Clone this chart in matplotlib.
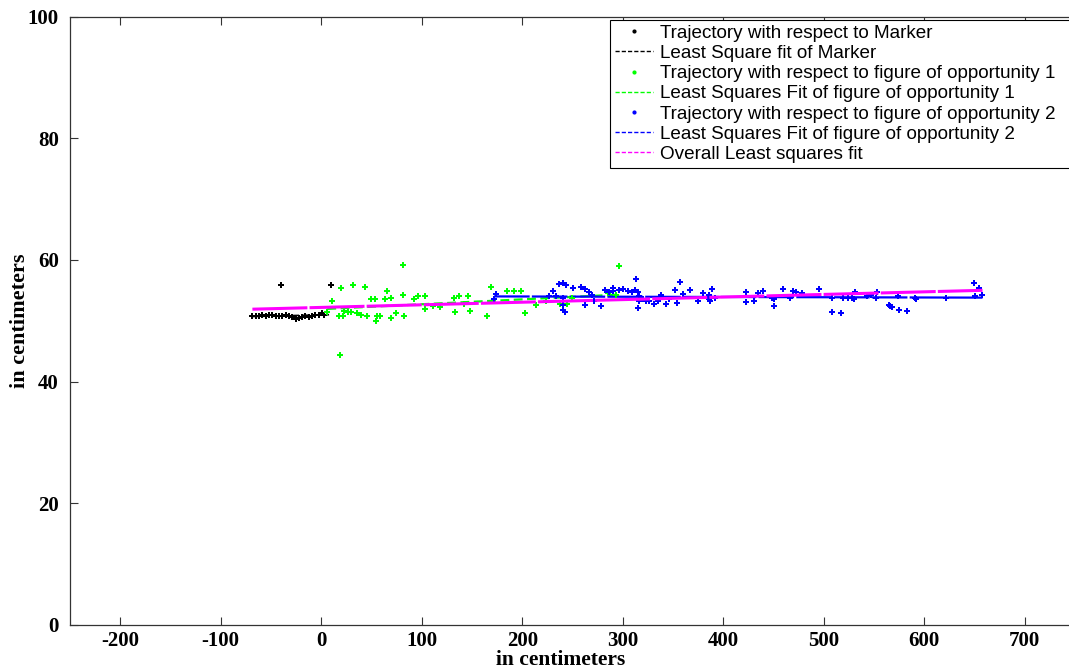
import matplotlib
matplotlib.use("Agg")
import matplotlib.pyplot as plt
from matplotlib.lines import Line2D

plt.rcParams["axes.unicode_minus"] = False

# Trajectory relative to the marker
marker_x = [-68.5, -65.2, -61.9, -58.6, -55.3, -52.0, -48.7, -45.4, -42.1, -38.8,
            -35.5, -32.2, -28.9, -25.6, -22.3, -19.0, -15.7, -12.4, -9.1, -5.8,
            -2.5, 0.8, 2.5, -40.5, 9.5]
marker_y = [50.8, 50.7, 50.85, 50.9, 50.7, 51.0, 50.9, 50.85, 50.7, 50.85,
            50.9, 50.8, 50.55, 50.35, 50.4, 50.6, 50.7, 50.55, 50.8, 50.9,
            51.0, 51.3, 50.9, 55.8, 55.8]
marker_fit_x = [-68.5, 9.5]
marker_fit_y = [50.7, 51.0]

# Trajectory relative to figure of opportunity 1
fig1_x = [6, 10.5, 18, 18.5, 19.5, 22, 23, 27, 30, 32, 36, 40, 44, 46, 50, 53.5,
          55, 54.5, 58.5, 63.5, 65, 69.5, 69.5, 74.5, 81, 81, 82, 92, 96, 103,
          103, 111, 118, 132, 133, 137, 142, 146.5, 148, 164.5, 168.5, 185, 192,
          198.5, 203, 214, 224, 237.5, 245, 249.5, 285, 293, 296.5]
fig1_y = [51.5, 53.3, 50.8, 44.4, 55.3, 50.8, 51.6, 51.5, 51.5, 55.9, 51.2, 51.0,
          55.5, 50.7, 53.5, 53.5, 50.7, 49.9, 50.7, 53.5, 54.9, 53.8, 50.5, 51.3,
          59.2, 54.2, 50.8, 53.5, 54.1, 54.1, 52.0, 52.5, 52.2, 53.8, 51.5, 54.1,
          52.7, 54.1, 51.6, 50.8, 55.5, 54.9, 54.9, 54.9, 51.3, 52.6, 53.2, 52.7,
          52.7, 53.8, 54.5, 54.3, 59.0]
fig1_fit_x = [6, 297]
fig1_fit_y = [51.95, 54.3]

# Trajectory relative to figure of opportunity 2
fig2_x = [172, 173.5, 227, 231, 233.5, 237, 241, 243.5, 241, 241, 241, 241, 242.5,
          251, 258.5, 262, 262, 266, 269.5, 271, 278, 282.5, 286.5, 290.5, 290.5,
          296, 300, 305, 309, 312.5, 313, 315, 315, 316.5, 318.5, 320, 316.5, 323,
          326.5, 331.5, 335.5, 338.5, 343, 346, 352, 354.5, 357, 359.5, 366.5,
          374.5, 379.5, 385.5, 385.5, 387, 389, 392, 422.5, 422.5, 430.5, 434.5,
          439.5, 449, 451, 451, 459.5, 466, 469, 472, 478, 495.5, 508, 508, 517,
          519.5, 524, 528, 530.5, 531, 543, 547.5, 552, 553.5, 565, 566, 568,
          573.5, 574.5, 582.5, 591, 592, 621.5, 650, 651, 654.5, 657.5]
fig2_y = [53.6, 54.4, 54.1, 54.9, 54.0, 56.0, 56.2, 55.8, 53.8, 53.2, 52.6, 51.8,
          51.5, 55.3, 55.5, 55.2, 52.6, 54.8, 54.3, 53.2, 52.4, 55.1, 54.8, 55.4,
          54.9, 55.0, 55.2, 54.9, 54.8, 55.0, 56.9, 54.7, 52.1, 54.1, 53.8, 53.6,
          53.3, 53.2, 53.2, 52.7, 53.2, 54.2, 52.7, 53.5, 55.1, 52.9, 56.3, 54.4,
          55.1, 53.2, 54.6, 54.2, 53.6, 53.3, 55.2, 53.7, 54.7, 53.1, 53.3, 54.6,
          54.9, 53.8, 53.6, 52.5, 55.2, 53.7, 54.9, 54.7, 54.6, 55.2, 53.7, 51.5,
          51.3, 53.8, 53.7, 53.7, 53.5, 54.8, 54.0, 54.3, 53.8, 54.7, 52.6, 52.4,
          52.2, 54.0, 51.8, 51.6, 53.7, 53.6, 53.8, 56.2, 54.1, 55.3, 54.3]
fig2_fit_x = [172, 658]
fig2_fit_y = [54.0, 53.8]

# Overall least squares fit
overall_fit_x = [-68.5, 658]
overall_fit_y = [51.9, 55.0]

x_ticks = [-200, -100, 0, 100, 200, 300, 400, 500, 600, 700]
y_ticks = [0, 20, 40, 60, 80, 100]

legend_labels = [
    "Trajectory with respect to Marker",
    "Least Square fit of Marker",
    "Trajectory with respect to figure of opportunity 1",
    "Least Squares Fit of figure of opportunity 1",
    "Trajectory with respect to figure of opportunity 2",
    "Least Squares Fit of figure of opportunity 2",
    "Overall Least squares fit",
]

BLACK, GREEN, BLUE, MAGENTA = "#000000", "#00ff00", "#0000ff", "#ff00ff"
serif = ["Liberation Serif", "DejaVu Serif"]

fig = plt.figure(figsize=(10.69, 6.69), dpi=100)
# x scale ~1.005 px per cm, axis runs past the right edge of the canvas
ax = fig.add_axes([70 / 1069, 44 / 669, 1013 / 1069, 608.5 / 669])

mk = dict(linestyle="none", marker="P", markersize=4.8, markeredgewidth=0)

ax.plot(marker_x, marker_y, color=BLACK, **mk, zorder=3)
ax.plot(marker_fit_x, marker_fit_y, color=BLACK, linestyle=(0, (4, 2)), linewidth=1.2, zorder=2)

ax.plot(fig1_x, fig1_y, color=GREEN, **mk, zorder=3)
ax.plot(fig1_fit_x, fig1_fit_y, color=GREEN, linestyle=(0, (4, 2)), linewidth=1.6, zorder=2)

ax.plot(fig2_x, fig2_y, color=BLUE, **mk, zorder=3)
ax.plot(fig2_fit_x, fig2_fit_y, color=BLUE, linestyle=(0, (16, 1.0)), linewidth=1.6, zorder=2)

ax.plot(overall_fit_x, overall_fit_y, color=MAGENTA, linestyle=(0, (18, 0.7)), linewidth=2.2, zorder=4)

ax.set_xlim(-250, 758)
ax.set_ylim(0, 100)
ax.set_xticks(x_ticks)
ax.set_yticks(y_ticks)

for lab in ax.get_xticklabels() + ax.get_yticklabels():
    lab.set_fontfamily(serif)
    lab.set_fontweight("bold")
    lab.set_fontsize(15)

ax.tick_params(direction="in", length=6, width=0.8, top=True, right=True,
               color="#333333", pad=4)
ax.tick_params(axis="y", pad=8)
for sp in ax.spines.values():
    sp.set_color("#333333")
    sp.set_linewidth(0.9)

ax.set_xlabel("in centimeters", fontfamily=serif, fontweight="bold", fontsize=15.5)
ax.set_ylabel("in centimeters", fontfamily=serif, fontweight="bold", fontsize=16)
ax.xaxis.set_label_coords(0.484, -0.041)
ax.yaxis.set_label_coords(-0.039, 0.5)

handles = [
    Line2D([], [], color=BLACK, linestyle="none", marker=".", markersize=4),
    Line2D([], [], color=BLACK, linestyle="--", linewidth=1.0, dashes=(3, 1.5)),
    Line2D([], [], color=GREEN, linestyle="none", marker=".", markersize=4),
    Line2D([], [], color=GREEN, linestyle="--", linewidth=1.0, dashes=(3, 1.5)),
    Line2D([], [], color=BLUE, linestyle="none", marker=".", markersize=4),
    Line2D([], [], color=BLUE, linestyle="--", linewidth=1.0, dashes=(3, 1.5)),
    Line2D([], [], color=MAGENTA, linestyle="--", linewidth=1.0, dashes=(3, 1.5)),
]
# legend frame runs past the right edge, like the axes
leg = fig.legend(handles, legend_labels, loc="upper left", mode="expand",
                 bbox_to_anchor=(610 / 1069, 1 - 20 / 669, 480 / 1069, 0),
                 prop={"family": ["Liberation Sans", "DejaVu Sans"], "size": 13.6},
                 frameon=True, fancybox=False, shadow=False, framealpha=1,
                 edgecolor="#000000", borderpad=0.25, labelspacing=0.155,
                 handlelength=2.0, handletextpad=0.4, borderaxespad=0)
leg.get_frame().set_linewidth(0.8)

fig.savefig("out.png", dpi=100)
